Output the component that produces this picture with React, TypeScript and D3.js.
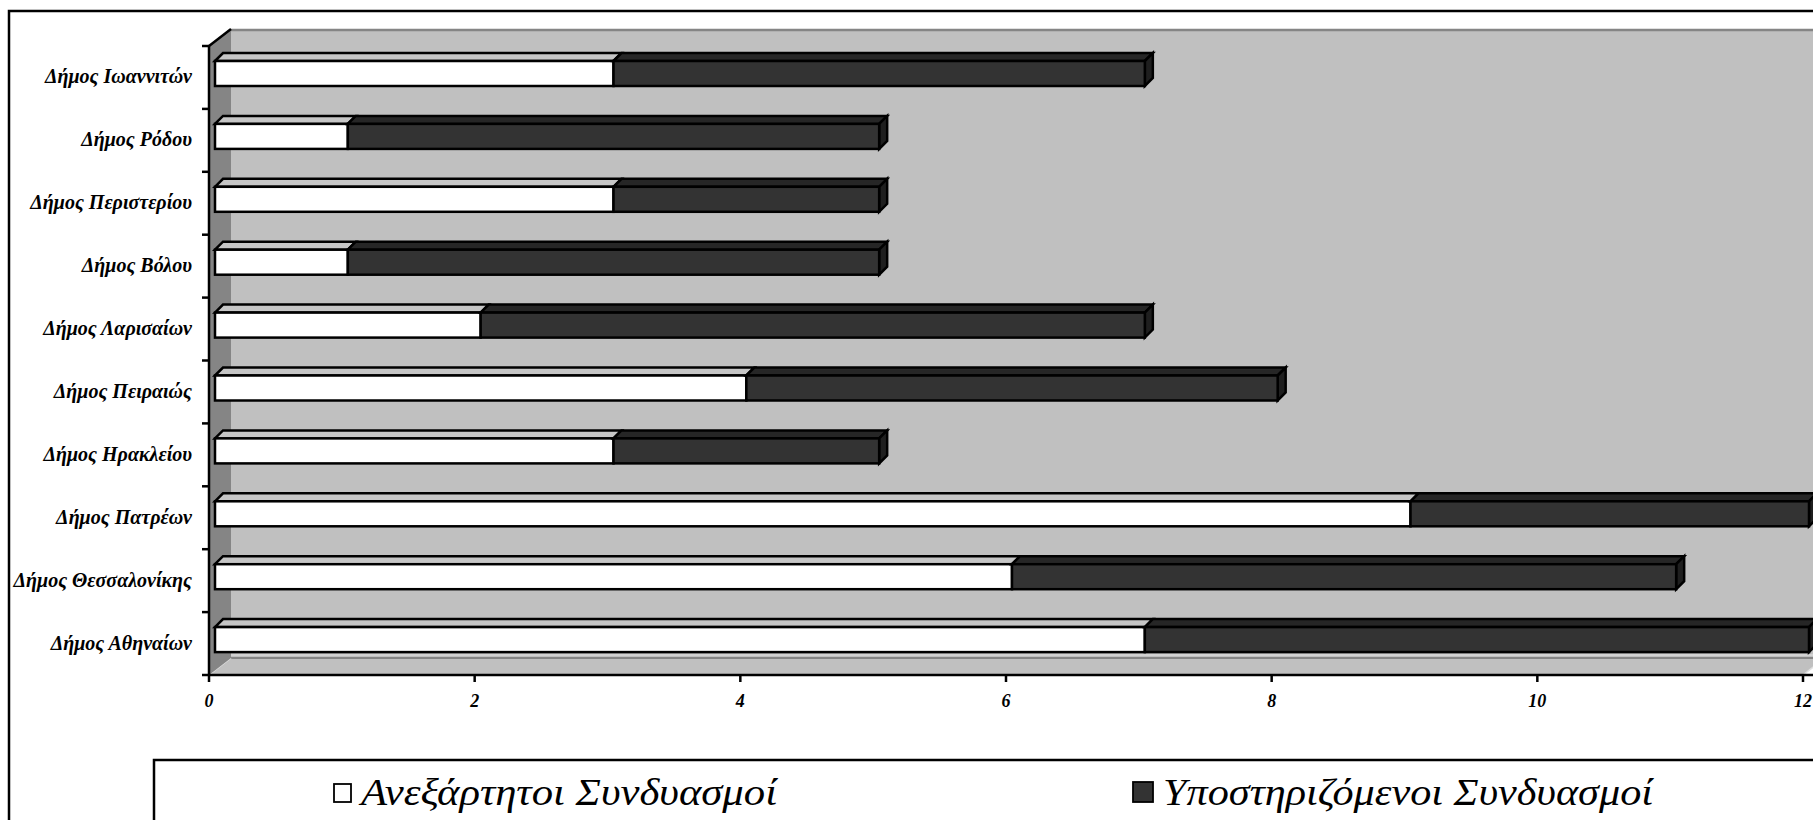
import React from "react";
import * as d3 from "d3";

const categories = [
  "Δήμος Ιωαννιτών",
  "Δήμος Ρόδου",
  "Δήμος Περιστερίου",
  "Δήμος Βόλου",
  "Δήμος Λαρισαίων",
  "Δήμος Πειραιώς",
  "Δήμος Ηρακλείου",
  "Δήμος Πατρέων",
  "Δήμος Θεσσαλονίκης",
  "Δήμος Αθηναίων",
];
const independent = [3, 1, 3, 1, 2, 4, 3, 9, 6, 7];
const supported = [4, 4, 2, 4, 5, 4, 2, 3, 5, 5];
const seriesNames = ["Ανεξάρτητοι Συνδυασμοί", "Υποστηριζόμενοι Συνδυασμοί"];
const xTicks = [0, 2, 4, 6, 8, 10, 12];

const W = 1813;
const H = 820;
const X0 = 209;
const X1 = 1803;
const YT = 46;
const YB = 675;
const DX = 22;
const DY = -17;
const BDX = 8;
const BDY = -8;
const BOFFX = 6;

const x = d3.scaleLinear().domain([0, 12]).range([X0, X1]);
const y = d3.scaleBand<string>().domain(categories).range([YT, YB]).paddingInner(0);

const pts = (arr: number[][]) => arr.map((p) => p.join(",")).join(" ");

function Box({ v0, v1, top, h, front, topC, side, last }: any) {
  const xa = x(v0) + BOFFX;
  const xb = x(v1) + BOFFX;
  const yt = top;
  const yb = top + h;
  return (
    <g stroke="#000" strokeWidth={2.5} strokeLinejoin="miter">
      <polygon
        points={pts([
          [xa, yt],
          [xa + BDX, yt + BDY],
          [xb + BDX, yt + BDY],
          [xb, yt],
        ])}
        fill={topC}
      />
      {last && (
        <polygon
          points={pts([
            [xb, yt],
            [xb + BDX, yt + BDY],
            [xb + BDX, yb + BDY],
            [xb, yb],
          ])}
          fill={side}
        />
      )}
      <rect x={xa} y={yt} width={xb - xa} height={h} fill={front} />
    </g>
  );
}

export default function App() {
  const bw = y.bandwidth();
  const boundaries = d3.range(categories.length + 1).map((i) => YT + i * bw);
  return (
    <svg
      width={W}
      height={H}
      style={{ position: "absolute", left: 0, top: 0, background: "#fff" }}
    >
      <rect x={0} y={0} width={W} height={H} fill="#fff" />
      {/* outer chart border */}
      <rect x={9} y={11} width={2000} height={1000} fill="#fff" stroke="#000" strokeWidth={2.5} />

      {/* back wall */}
      <polygon
        points={pts([
          [X0 + DX, YT + DY],
          [X1 + DX + 200, YT + DY],
          [X1 + DX + 200, YB + DY],
          [X0 + DX, YB + DY],
        ])}
        fill="#c0c0c0"
      />
      <line x1={X0 + DX} x2={W + 10} y1={YT + DY + 1} y2={YT + DY + 1} stroke="#858585" strokeWidth={2.5} />
      {/* floor */}
      <polygon
        points={pts([
          [X0, YB],
          [X1, YB],
          [X1 + DX, YB + DY],
          [X0 + DX, YB + DY],
        ])}
        fill="#c0c0c0"
      />
      <line x1={X0 + DX} x2={W + 10} y1={YB + DY - 3} y2={YB + DY - 3} stroke="#d8d8d8" strokeWidth={1.5} />
      <line x1={X0 + DX} x2={W + 10} y1={YB + DY} y2={YB + DY} stroke="#858585" strokeWidth={2} />
      <line x1={X0} y1={YB} x2={X0 + DX} y2={YB + DY} stroke="#dcdcdc" strokeWidth={1.5} />
      <line x1={X1} y1={YB} x2={X1 + DX} y2={YB + DY} stroke="#e0e0e0" strokeWidth={1.5} />
      {/* left wall */}
      <polygon
        points={pts([
          [X0, YT],
          [X0 + DX, YT + DY],
          [X0 + DX, YB + DY],
          [X0, YB],
        ])}
        fill="#858585"
      />
      <line x1={X0} y1={YT} x2={X0 + DX} y2={YT + DY} stroke="#000" strokeWidth={2.5} />

      {/* bars */}
      {categories.map((c, i) => {
        const top = (y(c) as number) + 15;
        const h = 25;
        const a = independent[i];
        const b = supported[i];
        return (
          <g key={c}>
            <Box v0={0} v1={a} top={top} h={h} front="#ffffff" topC="#c6c6c6" side="#c6c6c6" last={false} />
            <Box v0={a} v1={a + b} top={top} h={h} front="#333333" topC="#262626" side="#1f1f1f" last={true} />
          </g>
        );
      })}

      {/* axes */}
      <line x1={X0} y1={YT} x2={X0} y2={YB + 1} stroke="#000" strokeWidth={2.5} />
      <line x1={X0 - 1} y1={YB} x2={W + 10} y2={YB} stroke="#000" strokeWidth={2.5} />
      {boundaries.map((b, i) => (
        <line key={i} x1={X0 - 7} x2={X0} y1={b} y2={b} stroke="#000" strokeWidth={2.5} />
      ))}
      {xTicks.map((t) => (
        <g key={t}>
          <line x1={x(t)} x2={x(t)} y1={YB} y2={YB + 7} stroke="#000" strokeWidth={2.5} />
          <text
            x={x(t)}
            y={707}
            textAnchor="middle"
            fontFamily="'Liberation Serif', serif"
            fontStyle="italic"
            fontWeight="bold"
            fontSize={18}
          >
            {t}
          </text>
        </g>
      ))}
      {categories.map((c) => (
        <text
          key={c}
          x={192}
          y={(y(c) as number) + bw / 2 + 6}
          textAnchor="end"
          fontFamily="'Liberation Serif', serif"
          fontStyle="italic"
          fontWeight="bold"
          fontSize={20}
        >
          {c}
        </text>
      ))}

      {/* legend */}
      <rect x={154} y={760} width={2000} height={200} fill="#fff" stroke="#000" strokeWidth={2.5} />
      <rect x={334} y={784} width={17} height={18} fill="#fff" stroke="#000" strokeWidth={1.8} />
      <text
        x={361}
        y={805}
        fontFamily="'Liberation Serif', serif"
        fontStyle="italic"
        fontSize={37}
        textLength={416}
        lengthAdjust="spacingAndGlyphs"
      >
        {seriesNames[0]}
      </text>
      <rect x={1133} y={782} width={20} height={20} fill="#333333" stroke="#000" strokeWidth={1.8} />
      <text
        x={1163}
        y={805}
        fontFamily="'Liberation Serif', serif"
        fontStyle="italic"
        fontSize={37}
        textLength={490}
        lengthAdjust="spacingAndGlyphs"
      >
        {seriesNames[1]}
      </text>
    </svg>
  );
}
